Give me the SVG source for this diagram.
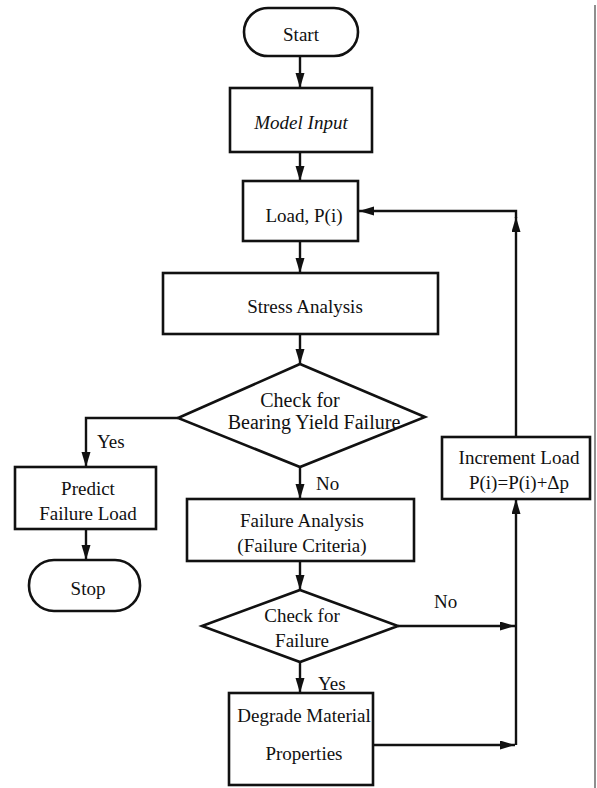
<svg xmlns="http://www.w3.org/2000/svg" width="597" height="788" viewBox="0 0 597 788">
<defs>
<marker id="ah" markerUnits="userSpaceOnUse" markerWidth="16" markerHeight="10" refX="15" refY="4.5" orient="auto">
<path d="M0,0 L15,4.5 L0,9 z" fill="#111"/>
</marker>
<style>
.n{fill:#fff;stroke:#111;stroke-width:2.6}
.t{font-family:"Liberation Serif","Times New Roman",serif;font-size:19px;fill:#111;text-anchor:middle}
.i{font-style:italic}
.c{fill:none;stroke:#111;stroke-width:2.4}
.lbl{font-family:"Liberation Serif","Times New Roman",serif;font-size:19px;fill:#111}
</style>
</defs>
<rect width="597" height="788" fill="#fff"/>
<line x1="595" y1="5" x2="595" y2="788" stroke="#444" stroke-width="1.2"/>

<g id="connectors">
<line class="c" x1="300" y1="56" x2="300" y2="88" marker-end="url(#ah)"/>
<line class="c" x1="300" y1="152" x2="300" y2="181" marker-end="url(#ah)"/>
<line class="c" x1="300" y1="241" x2="300" y2="273" marker-end="url(#ah)"/>
<line class="c" x1="300" y1="334" x2="300" y2="364" marker-end="url(#ah)"/>
<path class="c" d="M178,418 H86 V467" marker-end="url(#ah)"/>
<line class="c" x1="86" y1="529" x2="86" y2="560" marker-end="url(#ah)"/>
<line class="c" x1="300" y1="467" x2="300" y2="499" marker-end="url(#ah)"/>
<line class="c" x1="300" y1="561" x2="300" y2="590" marker-end="url(#ah)"/>
<line class="c" x1="300" y1="662" x2="300" y2="693" marker-end="url(#ah)"/>
<line class="c" x1="398" y1="626" x2="515" y2="626" marker-end="url(#ah)"/>
<line class="c" x1="373" y1="745" x2="515" y2="745" marker-end="url(#ah)"/>
<line class="c" x1="516" y1="745" x2="516" y2="499" marker-end="url(#ah)"/>
<line class="c" x1="516" y1="437" x2="516" y2="217" marker-end="url(#ah)"/>
<path class="c" d="M516,218 V211 H359" marker-end="url(#ah)"/>
</g>

<g id="start">
<rect class="n" x="244" y="8" width="114" height="48" rx="24"/>
<text class="t" x="301" y="41">Start</text>
</g>
<g id="model-input">
<rect class="n" x="230" y="88" width="142" height="64"/>
<text class="t i" x="301" y="129">Model Input</text>
</g>
<g id="load">
<rect class="n" x="243" y="181" width="115" height="60"/>
<text class="t" x="304" y="222">Load, P(i)</text>
</g>
<g id="stress-analysis">
<rect class="n" x="163" y="273" width="275" height="61"/>
<text class="t" x="305" y="313">Stress Analysis</text>
</g>
<g id="check-bearing">
<polygon class="n" points="300,364 425,417 300,467 178,418"/>
<text class="t" x="300" y="407" style="font-size:20px">Check for</text>
<text class="t" x="314" y="429" style="font-size:20px">Bearing Yield Failure</text>
</g>
<g id="predict">
<rect class="n" x="15" y="467" width="141" height="62"/>
<text class="t" x="88" y="495">Predict</text>
<text class="t" x="88" y="520">Failure Load</text>
</g>
<g id="stop">
<rect class="n" x="29" y="560" width="111" height="51" rx="25"/>
<text class="t" x="88" y="595">Stop</text>
</g>
<g id="failure-analysis">
<rect class="n" x="187" y="499" width="227" height="62"/>
<text class="t" x="302" y="527">Failure Analysis</text>
<text class="t" x="302" y="552">(Failure Criteria)</text>
</g>
<g id="check-failure">
<polygon class="n" points="300,590 398,626 300,662 202,626"/>
<text class="t" x="302" y="622">Check for</text>
<text class="t" x="302" y="647">Failure</text>
</g>
<g id="degrade">
<rect class="n" x="229" y="693" width="144" height="92"/>
<text class="t" x="304" y="722">Degrade Material</text>
<text class="t" x="304" y="760">Properties</text>
</g>
<g id="increment">
<rect class="n" x="442" y="437" width="148" height="62"/>
<text class="t" x="519" y="464">Increment Load</text>
<text class="t" x="519" y="489">P(i)=P(i)+Δp</text>
</g>

<g id="labels">
<text class="lbl" x="97" y="448">Yes</text>
<text class="lbl" x="316" y="490">No</text>
<text class="lbl" x="434" y="608">No</text>
<text class="lbl" x="318" y="690">Yes</text>
</g>
</svg>
